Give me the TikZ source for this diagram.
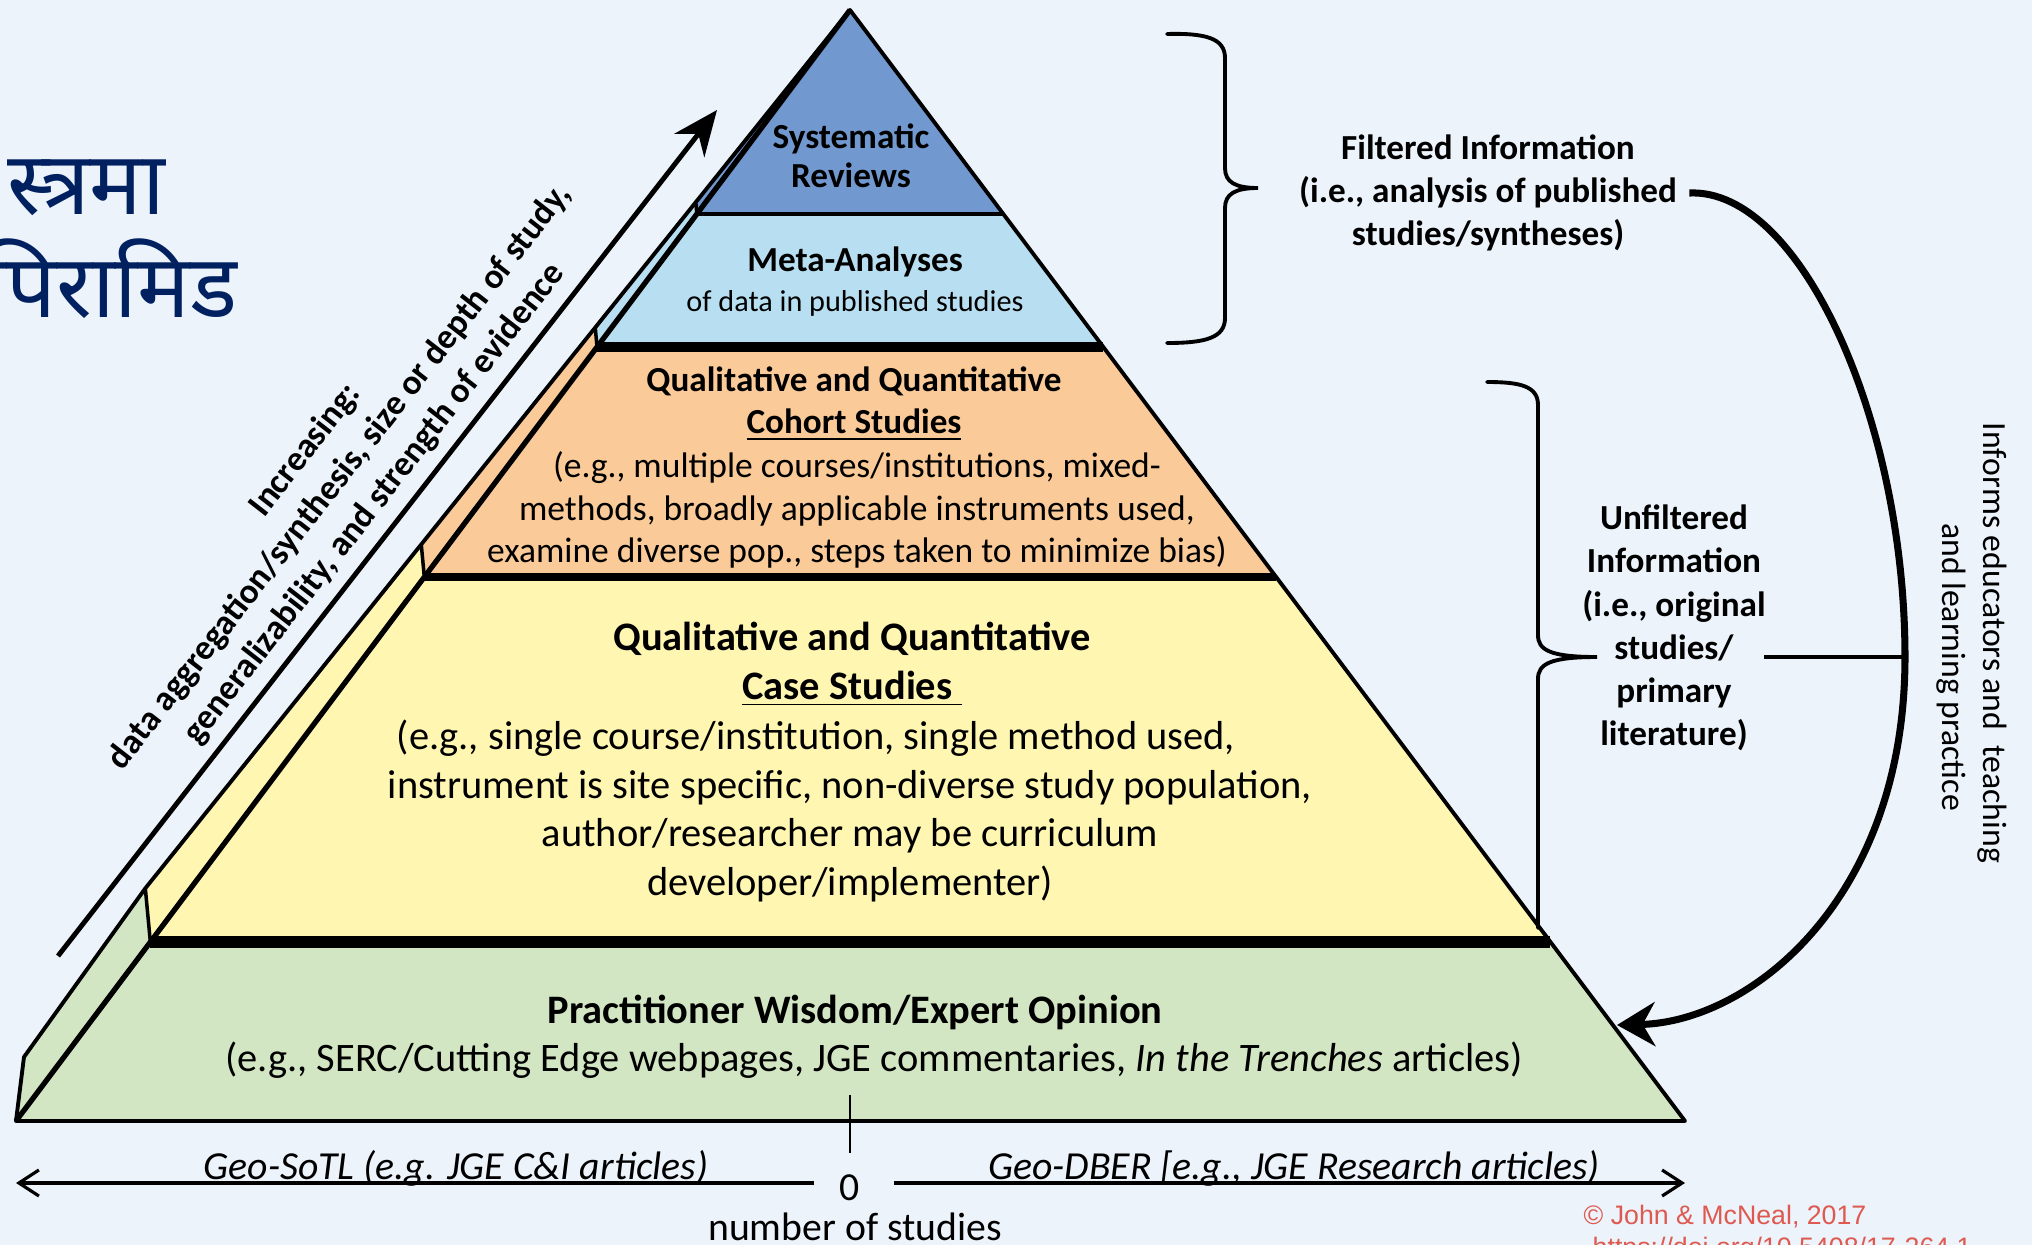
\documentclass[tikz,border=0pt]{standalone}
\usepackage{fontspec}
\setmainfont{Carlito}
\newfontfamily\devfont[Script=Devanagari]{Noto Sans}
\newfontfamily\arialfont{Liberation Sans}
\usetikzlibrary{calc,arrows.meta,positioning}
\definecolor{bgblue}{RGB}{236,243,251}
\definecolor{sysblue}{RGB}{114,152,208}
\definecolor{metablue}{RGB}{184,223,241}
\definecolor{cohortorange}{RGB}{250,202,152}
\definecolor{caseyellow}{RGB}{255,246,178}
\definecolor{wisdomgreen}{RGB}{211,230,196}
\definecolor{titlenavy}{RGB}{0,32,96}
\definecolor{copyred}{RGB}{222,90,80}

\begin{document}
\begin{tikzpicture}[
  x=0.01cm, y=-0.01cm,
  % --- styles ---
  tierhead/.style={
    align=center,
    inner sep=0pt,
    font=\bfseries\fontsize{11.5}{13.9}\selectfont
  },
  tierbody/.style={
    align=center,
    inner sep=0pt,
    font=\fontsize{11.5}{13.8}\selectfont
  },
  sidenote/.style={
    align=center,
    font=\bfseries\fontsize{10}{12.3}\selectfont
  },
  axislabel/.style={
    anchor=base,
    inner sep=0pt,
    font=\itshape\fontsize{11.3}{13.7}\selectfont
  },
  edge/.style={line width=1.1pt, line join=round},
  band/.style={line width=#1},
  brace/.style={line width=1.1pt, line cap=round},
  bigarrow/.style={
    line width=1.4pt,
    -{Stealth[length=4.5mm, width=3.8mm]}
  },
  curvearrow/.style={
    line width=2pt,
    -{Stealth[length=3.8mm, width=4.4mm]}
  },
  axisline/.style={
    line width=0.9pt,
    -{Straight Barb[length=2mm, width=2.6mm]}
  }
]

\clip (0,0) rectangle (2032,1245);
\fill[bgblue] (0,0) rectangle (2032,1245);

% ---- TITLE ----
\node[anchor=base east, inner sep=0pt, text=titlenavy,
  font=\devfont\fontsize{25}{30}\selectfont] (title1) at (166,214) {स्त्रमा};
\node[anchor=base east, inner sep=0pt, text=titlenavy,
  font=\devfont\fontsize{25}{30}\selectfont] (title2) at (238,317) {पिरामिड};

% ---- PYRAMID POINTS ----
\coordinate (A) at (850,10);
\coordinate (BL) at (16,1121);
\coordinate (BR) at (1685,1121);
\coordinate (OB) at (10,1057);
\coordinate (OK) at (24,1057);
\foreach \t [count=\i] in {0.1836,0.3033,0.5104,0.8389}{
  \coordinate (L\i) at ($(A)!\t!(BL)$);
  \coordinate (R\i) at ($(A)!\t!(BR)$);
  \coordinate (O\i) at ($(A)!\t!(OB)$);
}

% ---- FRONT FACES ----
\fill[sysblue] (A) -- (L1) -- (R1) -- cycle;
\fill[metablue] (L1) -- (L2) -- (R2) -- (R1) -- cycle;
\fill[cohortorange] (L2) -- (L3) -- (R3) -- (R2) -- cycle;
\fill[caseyellow] (L3) -- (L4) -- (R4) -- (R3) -- cycle;
\fill[wisdomgreen] (L4) -- (BL) -- (BR) -- (R4) -- cycle;

% ---- SIDE STRIP ----
\fill[sysblue] (A) -- (O1) -- (L1) -- cycle;
\fill[metablue] (O1) -- (O2) -- (L2) -- (L1) -- cycle;
\fill[cohortorange] (O2) -- (O3) -- (L3) -- (L2) -- cycle;
\fill[caseyellow] (O3) -- (O4) -- (L4) -- (L3) -- cycle;
\fill[wisdomgreen] (O4) -- (OK) -- (BL) -- (L4) -- cycle;

% ---- EDGES ----
\draw[band=1.4pt] (L1) -- (R1);
\draw[band=3.1pt] (L2) -- (R2);
\draw[band=2.3pt] (L3) -- (R3);
\draw[band=3.2pt] (L4) -- (R4);
\foreach \i in {1,...,4}
  \draw[line width=1pt] (O\i) -- (L\i);
\draw[edge] (A) -- (O4) -- (OK) -- (BL) -- (BR) -- cycle;
\draw[line width=1.5pt] (A) -- (BL);

% ---- TIER TEXTS ----
\node[tierhead, font=\bfseries\fontsize{10}{11.1}\selectfont] (sysrev) at (851,156) {Systematic\\Reviews};
\node[tierhead, font=\bfseries\fontsize{10}{12.5}\selectfont] (meta) at (855,262) {Meta-Analyses};
\node[tierbody, font=\fontsize{8.6}{10}\selectfont] (metasub) at (855,303) {of data in published studies};

\node[tierhead, font=\bfseries\fontsize{10}{12.1}\selectfont] (cohort) at (854,404) {Qualitative and Quantitative\\\underline{Cohort Studies}};
\node[tierbody, font=\fontsize{10.1}{12.1}\selectfont] (cohortex) at (857,510) {(e.g., multiple courses/institutions, mixed-\\methods, broadly applicable instruments used,\\examine diverse pop., steps taken to minimize bias)};

\node[tierhead] (case) at (852,664) {Qualitative and Quantitative\\\underline{Case Studies\ }};
\node[tierbody] (caseex) at (850,811) {(e.g., single course/institution, single method used,\hspace*{0.68cm}\\instrument is site specific, non-diverse study population,\\author/researcher may be curriculum\\developer/implementer)};

\node[tierhead] (wisdom) at (855,1012) {Practitioner Wisdom/Expert Opinion};
\node[tierbody] (wisdomex) at (874,1060) {(e.g., SERC/Cutting Edge webpages, JGE commentaries, \textit{In the Trenches} articles)};

% ---- INCREASING ARROW ----
\coordinate (arrS) at (58,956);
\coordinate (arrE) at (717,110);
\draw[bigarrow] (arrS) -- (arrE);
\node[rotate=52.1, align=center, font=\bfseries\fontsize{10}{12.4}\selectfont] (incr) at (340,477) {Increasing:\\data aggregation/synthesis, size or depth of study,\\generalizability, and strength of evidence};

% ---- BRACES AND NOTES ----
\draw[brace] (1167,34) .. controls (1205,33) and (1225,38) .. (1225,58) -- (1225,168)
  .. controls (1225,182) and (1235,188) .. (1258,188)
  .. controls (1235,188) and (1225,194) .. (1225,208) -- (1225,318)
  .. controls (1225,338) and (1205,343) .. (1167,343);
\node[sidenote] (filt) at (1488,193) {Filtered Information\\(i.e., analysis of published\\studies/syntheses)};

\draw[brace] (1487,382) .. controls (1520,382) and (1538,386) .. (1538,405) -- (1538,635)
  .. controls (1538,650) and (1550,657) .. (1597,657)
  .. controls (1550,657) and (1538,664) .. (1538,679) -- (1538,928);
\node[sidenote] (unfilt) at (1674,628) {Unfiltered\\Information\\(i.e., original\\studies/\\primary\\literature)};

\node[rotate=-90, font=\fontsize{9.6}{12}\selectfont] (informs) at (1992,643) {Informs educators and\ \ teaching};
\node[rotate=-90, font=\fontsize{9.6}{12}\selectfont] (informs2) at (1951,667) {and learning practice};

% ---- CURVED CONNECTOR ----
\coordinate (junc) at (1905,657);
\coordinate (hit) at (1617,1025);
\draw[curvearrow] (filt.east) .. controls (1800,188) and (1905,420) .. (junc)
  .. controls (1905,900) and (1750,1022) .. (hit);
\draw[line width=1.4pt] ([xshift=-0.14cm]unfilt.east |- junc) -- (junc);

% ---- NUMBER OF STUDIES AXIS ----
\node[inner sep=0pt, font=\fontsize{11.3}{13.7}\selectfont] (zero) at (850,1188) {0};
\coordinate (axL) at (16,1183);
\coordinate (axR) at (1685,1183);
\coordinate (tickT) at (850,1095);
\draw[axisline] (814,1183) -- (axL);
\draw[axisline] (894,1183) -- (axR);
\draw[line width=0.6pt] (tickT) -- (850,1153);
\node[axislabel] (sotl) at (456,1179) {Geo-SoTL (e.g. JGE C\&I articles)};
\node[axislabel] (dber) at (1294,1179) {Geo-DBER [e.g., JGE Research articles)};
\node[font=\fontsize{11.3}{13.7}\selectfont] (nstud) at (855,1227) {number of studies};

% ---- SOURCE ----
\node[anchor=west, inner sep=0pt, text=copyred, font=\arialfont\fontsize{7.6}{9}\selectfont] (copy) at (1583,1217) {© John \& McNeal, 2017};
\node[anchor=north west, inner sep=0pt, text=copyred, font=\arialfont\fontsize{7.6}{9}\selectfont] (doi) at (1592,1236) {https://doi.org/10.5408/17-264.1};

\end{tikzpicture}
\end{document}
